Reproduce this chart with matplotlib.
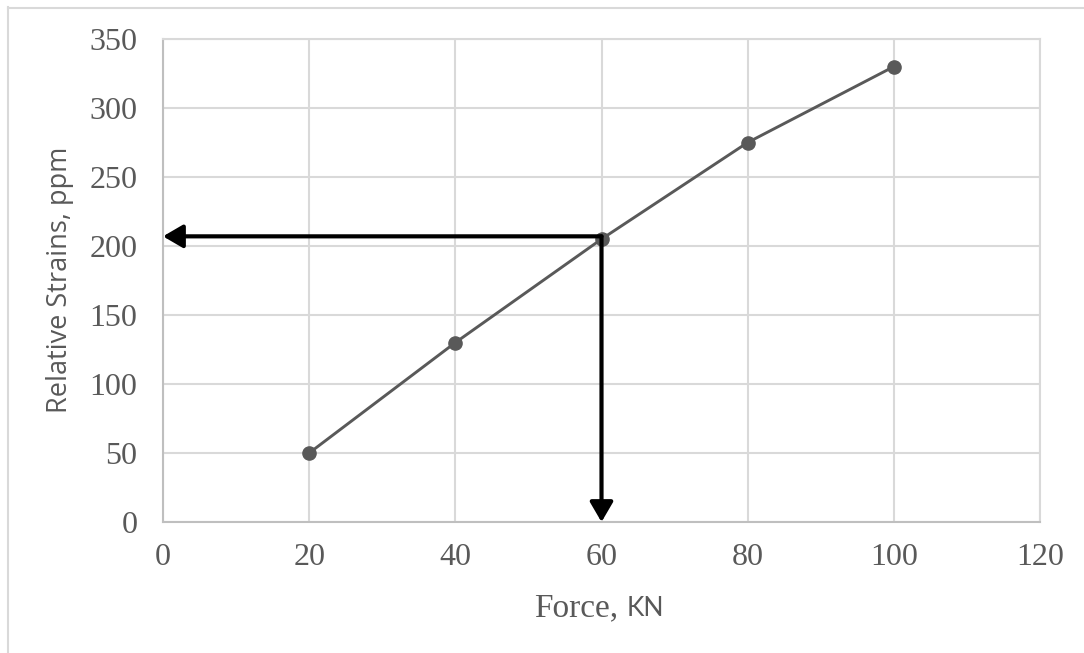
import matplotlib.pyplot as plt
from matplotlib.lines import Line2D

force = [20, 40, 60, 80, 100]
strain = [50, 130, 205, 275, 330]

# reading taken off the curve at 60 kN
read_force = 60
read_strain = 207

x_ticks = [0, 20, 40, 60, 80, 100, 120]
y_ticks = [0, 50, 100, 150, 200, 250, 300, 350]

gray_text = "#595959"
grid_col = "#d9d9d9"


def main():
    fig = plt.figure(figsize=(10.84, 6.53), dpi=100)
    ax = fig.add_axes([163 / 1084, 131 / 653, 877 / 1084, 483 / 653])

    ax.plot(force, strain, color="#595959", linewidth=2.1, marker="o",
            markersize=9.5, zorder=3)

    # arrows: across to the strain axis, then down to the force axis
    arrow_kw = dict(arrowstyle="-|>,head_length=0.6,head_width=0.35",
                    color="black", lw=3.0, mutation_scale=20,
                    shrinkA=0, shrinkB=0)
    ax.annotate("", xy=(0, read_strain), xytext=(read_force, read_strain),
                arrowprops=arrow_kw, annotation_clip=False, zorder=4)
    ax.annotate("", xy=(read_force, 0), xytext=(read_force, read_strain),
                arrowprops=arrow_kw, annotation_clip=False, zorder=4)

    ax.set_xlim(0, 120)
    ax.set_ylim(0, 350)
    ax.set_xticks(x_ticks)
    ax.set_yticks(y_ticks)
    ax.grid(True, color=grid_col, linewidth=1.5)
    ax.set_axisbelow(True)
    for s in ax.spines.values():
        s.set_color(grid_col)
        s.set_linewidth(1.5)
    ax.spines["left"].set_color("#bfbfbf")
    ax.spines["bottom"].set_color("#bfbfbf")

    ax.tick_params(length=0, labelcolor=gray_text, labelsize=23)
    ax.tick_params(axis="y", pad=18.5)
    ax.tick_params(axis="x", pad=15)
    for lab in ax.get_xticklabels() + ax.get_yticklabels():
        lab.set_fontfamily("Liberation Serif")

    # axis titles: serif "Force," with sans "KN", sans y title
    fig.text(618 / 1084, 37 / 653, "Force,", ha="right", va="baseline",
             fontsize=24, color=gray_text, family="Liberation Serif")
    fig.text(627 / 1084, 37 / 653, "KN", ha="left", va="baseline",
             fontsize=19, color=gray_text, family="Lato")
    fig.text(60 / 1084, (653 - 280) / 653, "Relative Strains, ppm",
             rotation=90, ha="center", va="center", fontsize=19.5,
             color=gray_text, family="Open Sans")

    # thin frame around the chart area
    fig.add_artist(Line2D([7.5 / 1084, 7.5 / 1084], [0, 646 / 653],
                          color=grid_col, lw=1.5, transform=fig.transFigure))
    fig.add_artist(Line2D([7.5 / 1084, 1083 / 1084], [645.5 / 653, 645.5 / 653],
                          color=grid_col, lw=1.5, transform=fig.transFigure))

    fig.savefig("out.png", dpi=100)


if __name__ == "__main__":
    main()
